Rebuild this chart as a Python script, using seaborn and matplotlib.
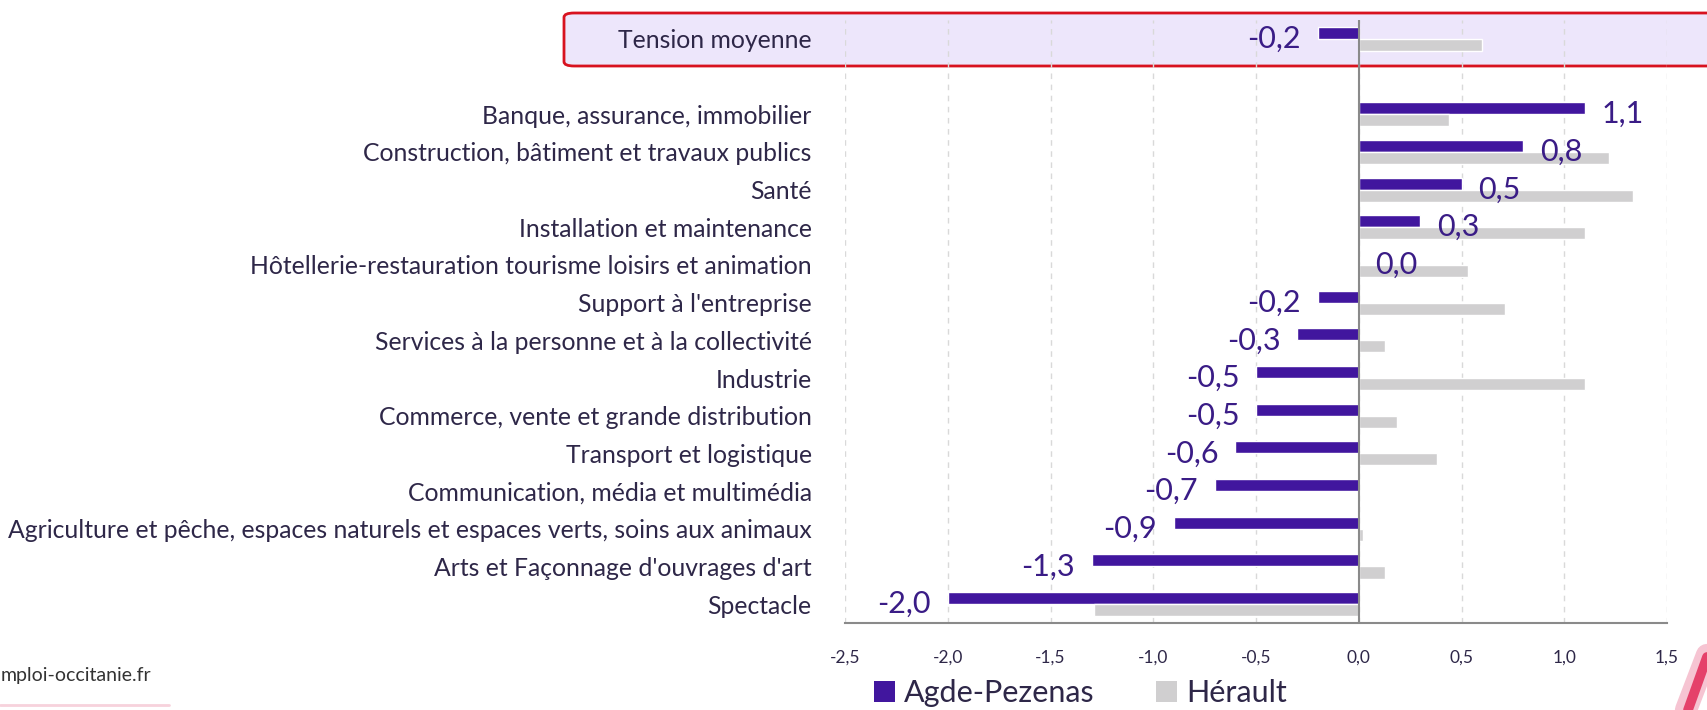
import numpy as np
import pandas as pd
import matplotlib
matplotlib.use('Agg')
import matplotlib.pyplot as plt
from matplotlib.patches import FancyBboxPatch, Patch
from matplotlib.lines import Line2D
import seaborn as sns

# data
categories = [
    "Tension moyenne",
    "Banque, assurance, immobilier",
    "Construction, bâtiment et travaux publics",
    "Santé",
    "Installation et maintenance",
    "Hôtellerie-restauration tourisme loisirs et animation",
    "Support à l'entreprise",
    "Services à la personne et à la collectivité",
    "Industrie",
    "Commerce, vente et grande distribution",
    "Transport et logistique",
    "Communication, média et multimédia",
    "Agriculture et pêche, espaces naturels et espaces verts, soins aux animaux",
    "Arts et Façonnage d'ouvrages d'art",
    "Spectacle",
]
agde = [-0.2, 1.1, 0.8, 0.5, 0.3, 0.0, -0.2, -0.3, -0.5, -0.5, -0.6, -0.7, -0.9, -1.3, -2.0]
herault = [0.6, 0.44, 1.22, 1.335, 1.10, 0.534, 0.71, 0.127, 1.10, 0.185, 0.38, 0.0, 0.02, 0.127, -1.29]
zones = ["Agde-Pezenas", "Hérault"]
xticks = [-2.5, -2.0, -1.5, -1.0, -0.5, 0.0, 0.5, 1.0, 1.5]

PURPLE = '#41169e'
GREY = '#d0cfd0'
TXT = '#2e2748'

sns.set_style('white')
plt.rcParams['font.family'] = ['Lato', 'DejaVu Sans']

df = pd.DataFrame({
    'cat': categories * 2,
    'val': agde + herault,
    'zone': [zones[0]] * len(categories) + [zones[1]] * len(categories),
})
# blank row between the average and the sectors
order = [categories[0], ' '] + categories[1:]

fig = plt.figure(figsize=(17.07, 7.10), dpi=100)

# highlight box behind the "Tension moyenne" row
box = FancyBboxPatch((564 / 1707, 1 - 66 / 710), (1730 - 564) / 1707, 53 / 710,
                     boxstyle='round,pad=0,rounding_size=0.006',
                     transform=fig.transFigure, facecolor='#ede6fb',
                     edgecolor='#d8121f', lw=2, zorder=0)
fig.patches.append(box)

ax = fig.add_axes([845 / 1707, 1 - 623 / 710, (1667 - 845) / 1707, (623 - 20) / 710])
ax.set_facecolor('none')
ax.set_zorder(1)

sns.barplot(data=df, y='cat', x='val', hue='zone', order=order, hue_order=zones,
            palette=[PURPLE, GREY], orient='h', width=0.64, dodge=True,
            saturation=1, legend=False, ax=ax, zorder=3)

ax.set_xlim(-2.5, 1.5)
ax.set_xticks(xticks)
ax.set_xticklabels([f"{v:.1f}".replace('.', ',') for v in xticks], fontsize=12.5, color=TXT)
ax.tick_params(axis='x', length=0, pad=19)
ax.tick_params(axis='y', length=0, pad=24, labelsize=17.8, labelcolor=TXT)
ax.set_xlabel('')
ax.set_ylabel('')
ax.xaxis.grid(True, linestyle=(0, (4, 4)), color='#d9d9d9', lw=1, zorder=0)
ax.set_axisbelow(True)
for s in ['top', 'right', 'left']:
    ax.spines[s].set_visible(False)
ax.spines['bottom'].set_color('#8a8a8a')
ax.spines['bottom'].set_linewidth(1.5)
ax.axvline(0, color='#8a8a8a', lw=1.5, zorder=4)

# value labels for Agde-Pezenas
for cat, v in zip(categories, agde):
    y = order.index(cat)
    lab = f"{v:.1f}".replace('.', ',')
    if v >= 0:
        ax.annotate(lab, (v, y), xytext=(12, 0), textcoords='offset points',
                    ha='left', va='center', fontsize=22, color='#3a1c86', zorder=5)
    else:
        ax.annotate(lab, (v, y), xytext=(-12, 0), textcoords='offset points',
                    ha='right', va='center', fontsize=22, color='#3a1c86', zorder=5)

handles = [Patch(facecolor=PURPLE, edgecolor='none'), Patch(facecolor=GREY, edgecolor='none')]
fig.legend(handles, zones, loc='center', bbox_to_anchor=(0.633, 0.024), ncol=2,
           frameon=False, fontsize=22, handlelength=0.7, handleheight=0.7,
           handletextpad=0.3, columnspacing=2.0, labelcolor=TXT)

# footer bits
fig.text(1 / 1707, 1 - 676 / 710, "mploi-occitanie.fr", fontsize=14, color='#333333',
         ha='left', va='center')
fig.add_artist(Line2D([0, 169 / 1707], [1 - 705 / 710] * 2, color='#f7d2dc', lw=2,
                      transform=fig.transFigure))
fig.add_artist(Line2D([1.0, 1686 / 1707], [1 - 655 / 710, 0.0], color='#f6c4d2', lw=16,
                      transform=fig.transFigure, solid_capstyle='round'))
fig.add_artist(Line2D([1.0, 1688 / 1707], [1 - 657 / 710, 0.0], color='#e5416a', lw=7,
                      transform=fig.transFigure, solid_capstyle='round'))

fig.savefig('out.png', dpi=100)
